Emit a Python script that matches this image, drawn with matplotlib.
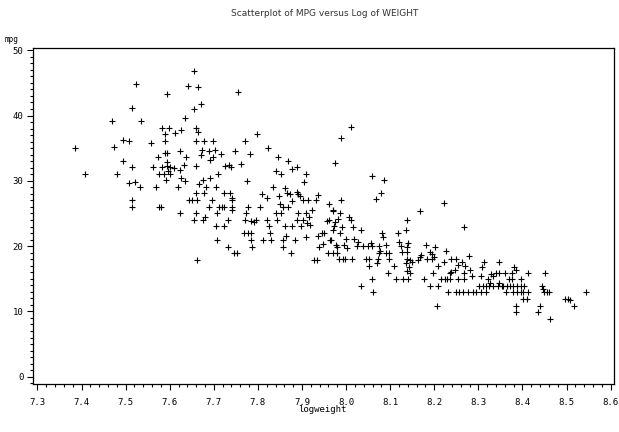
import matplotlib
matplotlib.use("Agg")
import matplotlib.pyplot as plt
from matplotlib.ticker import MultipleLocator, FixedLocator

# log(weight) and mpg
logweight = [
    7.524, 7.641, 7.593, 7.515, 7.470, 7.536, 7.634, 7.583, 7.598, 7.626,
    7.589, 7.611, 7.495, 7.508, 7.557, 7.589, 7.385, 7.473, 7.623, 7.589,
    7.594, 7.638, 7.573, 7.493, 7.593, 7.632, 7.515, 7.562, 7.582, 7.593,
    7.601, 7.610, 7.623, 7.597, 7.575, 7.586, 7.601, 7.408, 7.480, 7.626,
    7.635, 7.592, 7.508, 7.521, 7.533, 7.568, 7.618, 7.515, 7.515, 7.576,
    7.580, 7.623, 7.644,
    7.654, 7.664, 7.756, 7.670, 7.654, 7.660, 7.664, 7.797, 7.660, 7.678,
    7.698, 7.771, 7.824, 7.673, 7.690, 7.703, 7.748, 7.781, 7.670, 7.698,
    7.716, 7.845, 7.691, 7.869, 7.660, 7.725, 7.735, 7.738, 7.761, 7.888,
    7.877, 7.840, 7.853, 7.710, 7.908, 7.691, 7.675, 7.775, 7.905, 7.667,
    7.683, 7.704, 7.834, 7.861, 7.660, 7.678, 7.724, 7.737, 7.809, 7.867,
    7.873, 7.889, 7.892, 7.937, 7.651, 7.663, 7.696, 7.741, 7.741, 7.820,
    7.847, 7.878, 7.895, 7.902, 7.914, 7.932, 7.962, 7.690, 7.712, 7.718,
    7.724, 7.741, 7.741, 7.778, 7.805, 7.850, 7.856, 7.869, 7.922, 7.971,
    7.660, 7.680, 7.707, 7.773, 7.841, 7.852, 7.890, 7.908, 7.915, 7.654,
    7.675, 7.732, 7.771, 7.784, 7.791, 7.796, 7.820, 7.843, 7.888, 7.902,
    7.911, 7.918, 7.956, 7.961, 7.975, 7.982, 7.705, 7.722, 7.826, 7.862,
    7.877, 7.897, 7.973,
    7.769, 7.778, 7.784, 7.827, 7.707, 7.784, 7.812, 7.829, 7.858, 7.864,
    7.883, 7.908, 7.936, 7.945, 7.950, 7.964, 7.733, 7.786, 7.856, 7.939,
    7.948, 7.979, 7.746, 7.753, 7.875, 7.960, 7.971, 7.980, 7.661, 7.928,
    7.933,
    8.011, 7.988, 7.975, 8.058, 8.086, 8.079, 8.067, 7.988, 8.223, 8.168,
    7.971, 7.986, 8.007, 8.010, 8.137, 7.991, 8.016, 8.034, 7.970, 8.136,
    8.082, 8.084, 8.117, 7.986, 8.000, 8.019,
    7.966, 7.977, 7.995, 8.003, 8.028, 8.025, 8.039, 8.049, 8.056, 8.058,
    8.075, 8.077, 8.075, 8.090, 8.121, 8.124, 8.140, 8.139, 7.985, 7.992,
    7.998, 8.013, 8.045, 8.053, 8.090, 8.098, 8.073, 8.069, 8.098, 8.126,
    8.137, 8.053, 8.109, 8.139, 8.145, 8.149, 8.136, 8.143, 8.137, 8.145,
    8.164, 8.168, 8.169, 8.181, 8.202, 8.190, 8.195, 8.200, 8.183, 8.194,
    8.226, 8.238, 8.249, 8.222, 8.209, 8.254, 8.198, 8.247, 8.236, 8.095,
    8.058, 8.113, 8.130, 8.140, 8.177, 8.215, 8.224, 8.229, 8.236, 8.253,
    8.034, 8.190, 8.208, 8.060, 8.232, 8.249, 8.205,
    8.268, 8.262, 8.270, 8.279, 8.281, 8.285, 8.238, 8.267, 8.267, 8.309,
    8.313, 8.347, 8.307, 8.328, 8.332, 8.340, 8.322, 8.326, 8.347, 8.360,
    8.347, 8.376, 8.370, 8.376, 8.381, 8.385, 8.397, 8.412, 8.450, 8.302,
    8.310, 8.317, 8.325, 8.332, 8.345, 8.353, 8.356, 8.364, 8.372, 8.379,
    8.387, 8.397, 8.404, 8.444, 8.446, 8.257, 8.264, 8.277, 8.287, 8.295,
    8.307, 8.317, 8.363, 8.378, 8.387, 8.397, 8.402, 8.412, 8.448, 8.455,
    8.461, 8.402, 8.411, 8.496, 8.504, 8.508, 8.517, 8.385, 8.385, 8.440,
    8.436, 8.462, 8.544,
]
mpg = [
    44.8, 44.5, 43.3, 41.1, 39.2, 39.1, 39.6, 38.1, 38.1, 37.8,
    37.1, 37.3, 36.2, 36.1, 35.8, 36.1, 35.1, 35.2, 34.6, 34.2,
    34.2, 33.6, 33.6, 33.1, 32.9, 32.4, 32.1, 32.1, 32.1, 32.2,
    32.1, 32.0, 31.7, 31.5, 31.0, 31.0, 31.1, 31.0, 31.0, 30.5,
    30.0, 30.1, 29.6, 29.8, 29.1, 29.1, 29.1, 27.1, 26.0, 26.0,
    26.0, 25.0, 27.1,
    46.8, 44.3, 43.6, 41.8, 41.0, 38.1, 37.5, 37.2, 36.1, 36.1,
    36.1, 36.1, 35.1, 34.7, 34.5, 34.7, 34.6, 34.1, 34.0, 33.7,
    34.1, 33.6, 33.2, 33.1, 32.2, 32.3, 32.4, 32.1, 32.5, 32.1,
    31.8, 31.5, 31.0, 31.0, 31.0, 30.5, 30.1, 30.0, 29.8, 29.5,
    29.0, 29.0, 29.0, 28.9, 28.1, 28.1, 28.1, 28.1, 28.0, 28.1,
    28.0, 28.3, 28.0, 27.9, 27.1, 27.1, 27.1, 27.3, 27.0, 27.3,
    27.6, 26.9, 27.6, 27.0, 27.1, 27.1, 26.4, 26.0, 26.0, 26.0,
    26.0, 26.0, 25.5, 26.0, 26.0, 26.4, 26.0, 26.0, 25.5, 25.4,
    25.0, 24.5, 25.0, 25.0, 25.0, 25.0, 25.0, 25.0, 24.5, 24.0,
    24.0, 24.0, 24.0, 23.9, 23.7, 24.0, 24.0, 24.0, 24.0, 24.0,
    23.5, 23.3, 23.9, 24.0, 23.7, 24.2, 23.1, 23.1, 23.1, 23.1,
    23.1, 23.1, 23.1,
    22.0, 22.0, 22.0, 22.0, 20.9, 20.9, 20.9, 21.0, 21.0, 21.5,
    20.9, 21.4, 21.5, 22.0, 22.0, 20.9, 19.9, 19.9, 19.9, 19.9,
    20.3, 19.9, 18.9, 18.9, 19.0, 18.9, 18.9, 18.9, 17.9, 17.9,
    17.9,
    38.2, 36.6, 32.8, 30.8, 30.1, 28.1, 27.2, 27.0, 26.6, 25.4,
    25.5, 25.0, 24.4, 24.0, 24.0, 23.0, 23.0, 22.5, 22.4, 22.4,
    22.0, 21.4, 22.0, 22.0, 21.1, 21.1,
    21.0, 20.1, 20.2, 19.7, 20.7, 20.0, 20.0, 20.0, 20.4, 20.0,
    20.0, 19.3, 18.9, 20.2, 20.6, 20.0, 20.4, 19.8, 18.0, 18.0,
    18.0, 18.0, 18.0, 18.0, 18.9, 18.9, 18.0, 17.4, 18.0, 19.1,
    19.1, 17.0, 17.0, 18.0, 17.8, 17.5, 17.4, 16.8, 16.2, 15.9,
    17.9, 18.4, 18.6, 20.2, 19.9, 19.1, 18.8, 18.4, 18.0, 18.0,
    19.3, 18.0, 18.0, 17.5, 17.0, 17.1, 15.9, 16.4, 15.9, 15.9,
    14.9, 14.9, 14.9, 14.9, 14.9, 14.9, 14.9, 14.9, 14.9, 14.9,
    13.9, 13.9, 13.9, 12.9, 12.9, 12.9, 10.9,
    23.0, 17.5, 17.0, 18.5, 16.4, 15.4, 16.1, 15.9, 14.9, 16.8,
    17.5, 17.5, 15.4, 15.8, 15.4, 15.9, 14.9, 14.4, 15.9, 15.9,
    14.4, 15.9, 14.9, 14.9, 16.8, 16.4, 14.9, 15.9, 15.9, 13.9,
    13.9, 13.9, 13.9, 13.9, 13.9, 13.9, 13.9, 13.9, 13.9, 13.9,
    13.9, 13.9, 13.9, 13.9, 13.5, 12.9, 12.9, 12.9, 12.9, 12.9,
    12.9, 12.9, 12.9, 12.9, 12.9, 12.9, 12.9, 12.9, 12.9, 12.9,
    12.9, 11.9, 11.9, 11.9, 11.9, 11.7, 10.9, 10.9, 9.9, 10.9,
    9.9, 8.9, 12.9,
]

xticks = [7.3, 7.4, 7.5, 7.6, 7.7, 7.8, 7.9, 8.0, 8.1, 8.2, 8.3, 8.4, 8.5, 8.6]
yticks = [0, 10, 20, 30, 40, 50]

W, H = 619, 432
fig = plt.figure(figsize=(W / 100, H / 100), dpi=100)
ax = fig.add_axes([33 / W, 1 - 384 / H, (614 - 33) / W, (384 - 48) / H])

ax.plot(logweight, mpg, linestyle="none", marker="+", color="black",
        markersize=5, markeredgewidth=0.8)

ax.set_xlim(7.290, 8.6075)
ax.set_ylim(-1.12, 50.34)

ax.xaxis.set_major_locator(FixedLocator(xticks))
ax.xaxis.set_minor_locator(MultipleLocator(0.02))
ax.yaxis.set_major_locator(FixedLocator(yticks))
ax.yaxis.set_minor_locator(MultipleLocator(1))
ax.set_xticklabels(["%.1f" % t for t in xticks])
ax.set_yticklabels([str(t) for t in yticks])

mono = "DejaVu Sans Mono"
ax.tick_params(axis="both", which="major", direction="out", length=4,
               width=0.8, labelsize=6.5, colors="black")
ax.tick_params(axis="both", which="minor", direction="out", length=2.5,
               width=0.8)
ax.tick_params(axis="x", pad=6)
ax.tick_params(axis="y", pad=3)
for lab in ax.get_xticklabels() + ax.get_yticklabels():
    lab.set_family(mono)

for sp in ax.spines.values():
    sp.set_linewidth(0.9)

fig.text(325 / W, 1 - 14 / H, "Scatterplot of MPG versus Log of WEIGHT",
         ha="center", va="center", fontsize=6.5, color="#333333")
fig.text(322 / W, 1 - 410 / H, "logweight", ha="center", va="center",
         fontsize=6.5, family=mono)
fig.text(12 / W, 1 - 39 / H, "mpg", ha="center", va="center",
         fontsize=5.5, family=mono)

fig.savefig("out.png", dpi=100)
